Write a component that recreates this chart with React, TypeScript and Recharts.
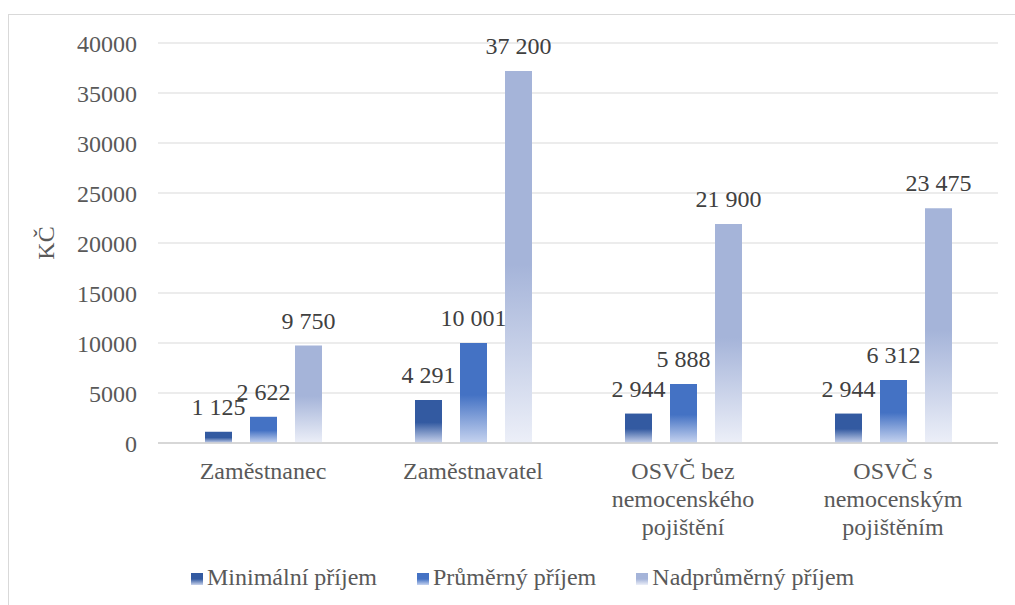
import { BarChart, Bar, XAxis, YAxis, CartesianGrid, LabelList } from "recharts";

const categories = [
    "Zaměstnanec",
    "Zaměstnavatel",
    "OSVČ bez\nnemocenského\npojištění",
    "OSVČ s\nnemocenským\npojištěním"
];

const minimalni = [1125, 4291, 2944, 2944];
const prumerny = [2622, 10001, 5888, 6312];
const nadprumerny = [9750, 37200, 21900, 23475];

const yTicks = [0, 5000, 10000, 15000, 20000, 25000, 30000, 35000, 40000];

const seriesNames = ["Minimální příjem", "Průměrný příjem", "Nadprůměrný příjem"];
const seriesColors = ["#335aa1", "#4472c4", "#a5b4d9"];
const seriesLight = ["#c9d3ec", "#c6d3ef", "#eceff8"];

const FONT = "Liberation Serif, serif";

const data = categories.map((name, i) => ({
    name,
    min: minimalni[i],
    avg: prumerny[i],
    high: nadprumerny[i]
}));

// 37200 -> "37 200"
const fmt = (v: number) => String(v).replace(/\B(?=(\d{3})+(?!\d))/g, " ");

const CategoryTick = (props: any) => {
    const { x, y, payload } = props;
    const lines = String(payload.value).split("\n");
    return (
        <text x={x} y={y} textAnchor="middle" fill="#595959" fontSize={24} style={{ fontFamily: FONT }}>
            {lines.map((l, i) => (
                <tspan key={i} x={x} dy={28}>{l}</tspan>
            ))}
        </text>
    );
};

// plain label above the bar, no wrapping
const renderLabel = (p: any) => {
    const { x, y, width, value } = p;
    return (
        <text
            x={Number(x) + Number(width) / 2}
            y={Number(y) - 17}
            textAnchor="middle"
            fill="#404040"
            fontSize={24}
            style={{ fontFamily: FONT }}
        >
            {fmt(Number(value))}
        </text>
    );
};

export default function App() {
    return (
        <div style={{
            position: "fixed",
            left: 8,
            top: 14,
            width: 1007,
            height: 591,
            borderLeft: "1px solid #d9d9d9",
            borderTop: "1px solid #d9d9d9",
            boxSizing: "border-box",
            background: "#fff",
            fontFamily: FONT
        }}>
            <BarChart
                width={1006}
                height={590}
                data={data}
                margin={{ top: 28, right: 17, bottom: 62, left: 0 }}
                barSize={27}
                barGap={18}
                style={{ fontFamily: FONT }}
            >
                <defs>
                    {seriesColors.map((c, i) => (
                        <linearGradient key={i} id={`grad${i}`} x1="0" y1="0" x2="0" y2="1">
                            <stop offset="0%" stopColor={c} />
                            <stop offset="52%" stopColor={c} />
                            <stop offset="100%" stopColor={seriesLight[i]} />
                        </linearGradient>
                    ))}
                </defs>
                <CartesianGrid vertical={false} stroke="#d9d9d9" />
                <XAxis
                    dataKey="name"
                    height={100}
                    interval={0}
                    tickLine={false}
                    axisLine={{ stroke: "#d0d0d0", strokeWidth: 1.5 }}
                    tick={<CategoryTick />}
                />
                <YAxis
                    width={149}
                    domain={[0, 40000]}
                    ticks={yTicks}
                    tickLine={false}
                    axisLine={false}
                    tickSize={0}
                    tickMargin={21}
                    tick={{ fontSize: 24, fill: "#595959", style: { fontFamily: FONT } }}
                    label={{
                        value: "KČ",
                        angle: -90,
                        position: "insideLeft",
                        offset: 36,
                        style: { fontSize: 24, fill: "#595959", fontFamily: FONT, textAnchor: "middle" }
                    }}
                />
                <Bar dataKey="min" fill="url(#grad0)" isAnimationActive={false}>
                    <LabelList dataKey="min" content={renderLabel} />
                </Bar>
                <Bar dataKey="avg" fill="url(#grad1)" isAnimationActive={false}>
                    <LabelList dataKey="avg" content={renderLabel} />
                </Bar>
                <Bar dataKey="high" fill="url(#grad2)" isAnimationActive={false}>
                    <LabelList dataKey="high" content={renderLabel} />
                </Bar>
            </BarChart>
            <div style={{
                position: "absolute",
                left: 182,
                top: 548,
                display: "flex",
                alignItems: "center",
                fontSize: 24,
                lineHeight: "28px",
                color: "#595959",
                whiteSpace: "nowrap"
            }}>
                {seriesNames.map((n, i) => (
                    <div key={n} style={{ display: "flex", alignItems: "center", marginRight: 40 }}>
                        <span style={{
                            display: "inline-block",
                            width: 12,
                            height: 12,
                            marginRight: 4,
                            marginTop: 4,
                            background: `linear-gradient(${seriesColors[i]} 0%, ${seriesColors[i]} 50%, ${seriesLight[i]} 100%)`
                        }} />
                        <span>{n}</span>
                    </div>
                ))}
            </div>
        </div>
    );
}
